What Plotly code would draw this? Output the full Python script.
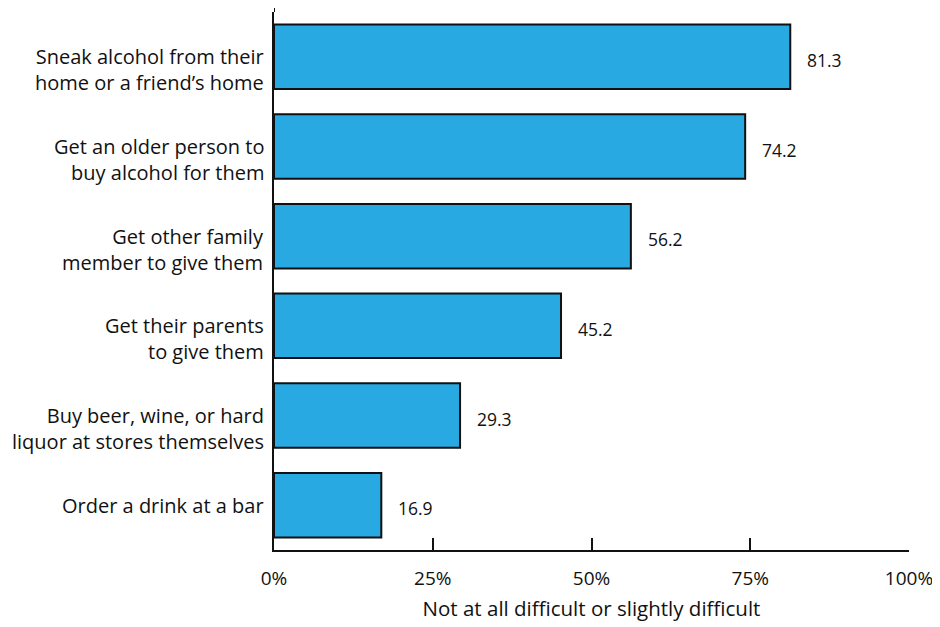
import plotly.graph_objects as go

categories = [
    "Sneak alcohol from their<br>home or a friend’s home",
    "Get an older person to<br>buy alcohol for them",
    "Get other family<br>member to give them",
    "Get their parents<br>to give them",
    "Buy beer, wine, or hard<br>liquor at stores themselves",
    "Order a drink at a bar",
]
values = [81.3, 74.2, 56.2, 45.2, 29.3, 16.9]
tick_vals = [0, 25, 50, 75, 100]
tick_text = ["0%", "25%", "50%", "75%", "100%"]
x_title = "Not at all difficult or slightly difficult"

FONT = "Open Sans"
INK = "#111111"

fig = go.Figure()
fig.add_trace(go.Bar(
    x=values, y=categories, orientation="h",
    marker=dict(color="#29A9E1", line=dict(color=INK, width=2)),
    width=0.72, hoverinfo="skip",
))

# value labels
for v, c in zip(values, categories):
    fig.add_annotation(x=v, y=c, text=f"{v:.1f}", showarrow=False,
                       xanchor="left", xshift=15, yshift=-3,
                       font=dict(family=FONT, size=17.5, color=INK))

# category labels: first line aligned with bar centre
LINE_H = 26
for c in categories:
    n = c.count("<br>") + 1
    fig.add_annotation(x=0, y=c, xref="x", text=c, showarrow=False,
                       xanchor="right", yanchor="middle", align="right",
                       xshift=-8, yshift=-(n - 1) * LINE_H / 2,
                       font=dict(family=FONT, size=20, color=INK))

# extend y axis line slightly above plot area
fig.add_shape(type="line", xref="x", yref="paper", x0=0, x1=0, y0=1, y1=1.012,
              line=dict(color=INK, width=2))

fig.update_layout(
    width=932, height=619,
    margin=dict(l=266, r=31, t=4, b=77),
    paper_bgcolor="white", plot_bgcolor="white",
    showlegend=False,
    font=dict(family=FONT, color=INK),
    xaxis=dict(
        range=[0, 100], tickvals=tick_vals, ticktext=tick_text,
        showgrid=False, zeroline=False,
        showline=True, linecolor=INK, linewidth=2,
        ticks="inside", ticklen=12, tickwidth=2, tickcolor=INK,
        ticklabelstandoff=10,
        tickfont=dict(family=FONT, size=19, color=INK),
        title=dict(text=x_title, font=dict(family=FONT, size=20.5, color=INK), standoff=12),
    ),
    yaxis=dict(
        autorange="reversed", showgrid=False, zeroline=False,
        showline=True, linecolor=INK, linewidth=2,
        ticks="", showticklabels=False,
    ),
)

fig.write_html("out.html")
